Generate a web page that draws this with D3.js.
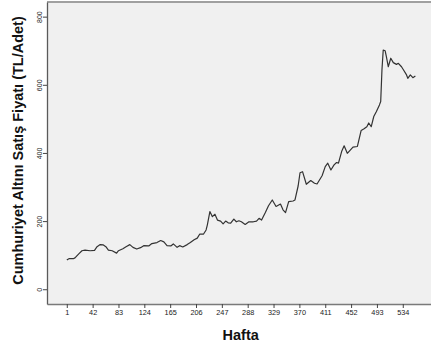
<!DOCTYPE html>
<html>
<head>
<meta charset="utf-8">
<script src="https://cdn.jsdelivr.net/npm/d3@7"></script>
<style>
  html, body { margin: 0; padding: 0; background: #ffffff; }
  svg { display: block; font-family: "Liberation Sans", Arial, sans-serif; }
</style>
</head>
<body>
<svg id="chart" width="431" height="349"></svg>
<script>
// Weekly gold coin (Cumhuriyet altını) sale price, TL per piece
const weeks = [1, 5, 12, 14, 20, 25, 30, 38, 45, 49, 54, 59, 63, 67, 73, 80, 83, 90, 95, 101,
  106, 112, 118, 123, 131, 136, 144, 150, 155, 160, 166, 170, 176, 180, 185, 192, 197, 203, 208, 212,
  218, 222, 224, 228, 232, 236, 240, 245, 249, 253, 257, 261, 266, 270, 274, 278, 284, 290, 297, 302,
  306, 310, 316, 321, 327, 333, 340, 344, 348, 353, 360, 363, 368, 371, 375, 381, 388, 394, 398, 406,
  411, 415, 420, 425, 429, 432, 437, 441, 446, 450, 455, 462, 468, 472, 477, 480, 484, 488, 492, 497,
  499, 501, 503, 506, 508, 511, 515, 519, 524, 527, 532, 535, 540, 542, 546, 550, 554];
const prices = [86, 90, 90, 92, 104, 113, 115, 113, 114, 125, 131, 130, 125, 115, 113, 106, 113, 119, 125, 131,
  123, 118, 122, 128, 127, 134, 137, 143, 139, 128, 127, 133, 123, 128, 124, 131, 137, 145, 150, 162,
  162, 174, 189, 228, 213, 220, 203, 200, 192, 200, 195, 194, 206, 198, 201, 198, 190, 198, 198, 200,
  208, 203, 225, 245, 262, 243, 250, 233, 225, 257, 259, 262, 303, 342, 345, 308, 319, 311, 309, 333,
  360, 370, 350, 365, 372, 370, 404, 421, 399, 407, 417, 419, 466, 470, 477, 488, 477, 507, 521, 541,
  551, 644, 702, 700, 683, 653, 678, 665, 660, 663, 653, 644, 629, 619, 629, 621, 626];

const xTickValues = [1, 42, 83, 124, 165, 206, 247, 288, 329, 370, 411, 452, 493, 534];
const yTickValues = [0, 200, 400, 600, 800];

const xTitle = "Hafta";
const yTitle = "Cumhuriyet Altını Satış Fiyatı (TL/Adet)";

const svg = d3.select("#chart");
const frame = { left: 47, right: 445, top: 2, bottom: 304 };

const x = d3.scaleLinear().domain([-30.4, 601]).range([frame.left, frame.right]);
const y = d3.scaleLinear().domain([-43.3, 843]).range([frame.bottom, frame.top]);

// plot background
svg.append("rect")
  .attr("x", frame.left).attr("y", frame.top)
  .attr("width", frame.right - frame.left).attr("height", frame.bottom - frame.top)
  .attr("fill", "#f0f0f0");

// top border
svg.append("line")
  .attr("x1", frame.left).attr("x2", frame.right)
  .attr("y1", frame.top).attr("y2", frame.top)
  .attr("stroke", "#a0a0a0").attr("stroke-width", 2);

// x axis
const xAxis = svg.append("g")
  .attr("transform", `translate(0,${frame.bottom})`)
  .call(d3.axisBottom(x).tickValues(xTickValues).tickSize(4).tickPadding(2).tickSizeOuter(0));
xAxis.select(".domain").attr("stroke", "#7a7a7a").attr("stroke-width", 1.3);
xAxis.selectAll(".tick line").attr("stroke", "#444");
xAxis.selectAll(".tick text")
  .attr("fill", "#222").attr("font-size", "7.3px")
  .attr("font-family", "Liberation Sans, Arial, sans-serif");

// y axis with vertical tick labels
const yAxis = svg.append("g")
  .attr("transform", `translate(${frame.left},0)`)
  .call(d3.axisLeft(y).tickValues(yTickValues).tickSize(4).tickSizeOuter(0));
yAxis.select(".domain").attr("stroke", "#5a5a5a").attr("stroke-width", 1.3);
yAxis.selectAll(".tick line").attr("stroke", "#444");
yAxis.selectAll(".tick text")
  .attr("fill", "#222").attr("font-size", "7px")
  .attr("font-family", "Liberation Sans, Arial, sans-serif")
  .attr("x", null).attr("dy", null)
  .attr("text-anchor", "middle")
  .attr("transform", "translate(-5,0) rotate(-90)");

// price line
const line = d3.line()
  .x((d, i) => x(weeks[i]))
  .y(d => y(d))
  .curve(d3.curveLinear);

svg.append("path")
  .datum(prices)
  .attr("d", line)
  .attr("fill", "none")
  .attr("stroke", "#333")
  .attr("stroke-width", 1.2)
  .attr("stroke-linejoin", "round");

// axis titles
svg.append("text")
  .attr("x", 240.7).attr("y", 340)
  .attr("text-anchor", "middle")
  .attr("font-size", "14.5px").attr("font-weight", "bold").attr("fill", "#111")
  .text(xTitle);

svg.append("text")
  .attr("transform", "translate(23,150.5) rotate(-90)")
  .attr("text-anchor", "middle")
  .attr("font-size", "14.5px").attr("font-weight", "bold").attr("fill", "#111")
  .text(yTitle);
</script>
</body>
</html>
